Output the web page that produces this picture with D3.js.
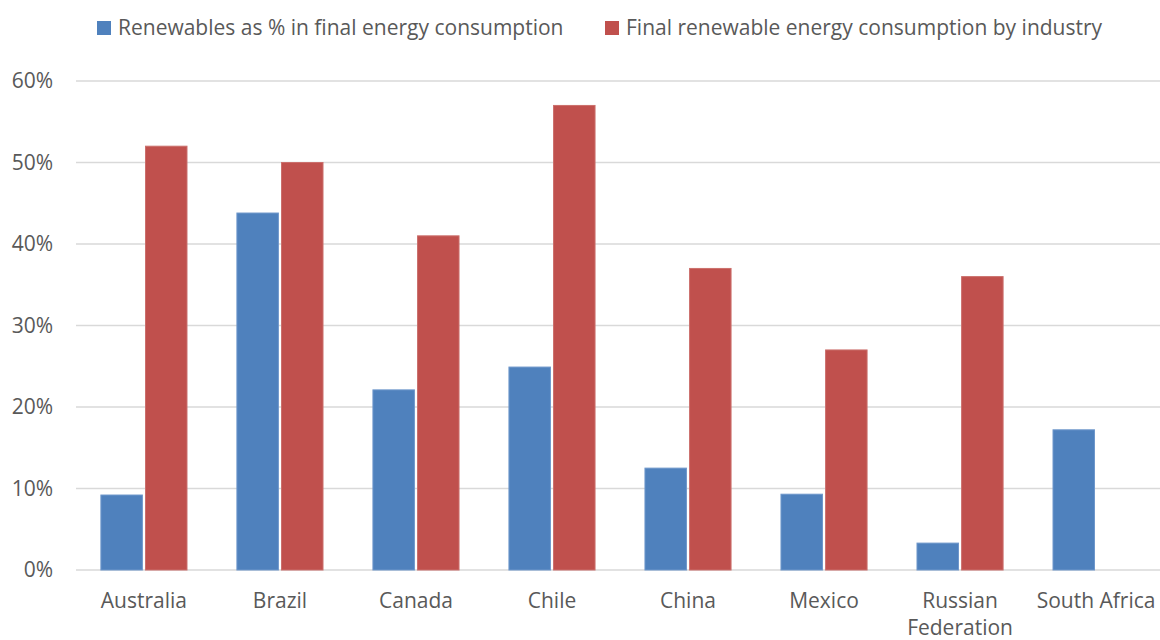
<!DOCTYPE html>
<html>
<head>
<meta charset="utf-8">
<script src="https://cdn.jsdelivr.net/npm/d3@7"></script>
<style>
  body { margin: 0; background: #fff; }
  svg text { font-family: "Open Sans", sans-serif; fill: #595959; }
</style>
</head>
<body>
<div id="chart"></div>
<script>
const countries = ['Australia', 'Brazil', 'Canada', 'Chile', 'China', 'Mexico', 'Russian Federation', 'South Africa'];
const seriesNames = ['Renewables as % in final energy consumption', 'Final renewable energy consumption by industry'];
const renewableShare = [9.2, 43.8, 22.1, 24.9, 12.5, 9.3, 3.3, 17.2];
const industryShare = [52, 50, 41, 57, 37, 27, 36, null];
const yTicks = [0, 10, 20, 30, 40, 50, 60];
const colors = ['#4F81BD', '#C0504D'];
const strokes = ['#6E97CB', '#CB6F6C'];

const width = 1160, height = 640;
const margin = { top: 81, right: 0, bottom: 70, left: 76 };

const svg = d3.select('#chart').append('svg')
    .attr('width', width)
    .attr('height', height);

const x = d3.scaleBand()
    .domain(countries)
    .range([margin.left, margin.left + countries.length * 136])
    .paddingInner(0.367)
    .paddingOuter(0.183);

const x1 = d3.scaleBand()
    .domain([0, 1])
    .range([0, x.bandwidth()])
    .paddingInner(0.07);

const y = d3.scaleLinear()
    .domain([0, 60])
    .range([height - margin.bottom, margin.top]);

// gridlines
svg.append('g')
    .selectAll('line')
    .data(yTicks)
    .join('line')
    .attr('x1', margin.left)
    .attr('x2', width)
    .attr('y1', d => y(d))
    .attr('y2', d => y(d))
    .attr('stroke', '#d9d9d9')
    .attr('stroke-width', 1.5);

// y labels
svg.append('g')
    .selectAll('text')
    .data(yTicks)
    .join('text')
    .attr('x', 53)
    .attr('y', d => y(d))
    .attr('dy', '0.35em')
    .attr('text-anchor', 'end')
    .style('font-size', '21px')
    .text(d => d + '%');

// bars
const series = [renewableShare, industryShare];
series.forEach((vals, si) => {
    svg.append('g')
        .selectAll('rect')
        .data(countries.map((c, i) => ({ c, v: vals[i] })).filter(d => d.v != null))
        .join('rect')
        .attr('x', d => x(d.c) + x1(si))
        .attr('width', x1.bandwidth())
        .attr('y', d => y(d.v))
        .attr('height', d => y(0) - y(d.v))
        .attr('fill', colors[si])
        .attr('stroke', strokes[si])
        .attr('stroke-width', 1);
});

// x labels
const xl = svg.append('g')
    .selectAll('text')
    .data(countries)
    .join('text')
    .attr('x', d => x(d) + x.bandwidth() / 2)
    .attr('y', 608)
    .attr('text-anchor', 'middle')
    .style('font-size', '21px');
xl.each(function (d) {
    const words = d === 'Russian Federation' ? ['Russian', 'Federation'] : [d];
    const t = d3.select(this);
    words.forEach((w, i) => {
        t.append('tspan')
            .attr('x', x(d) + x.bandwidth() / 2)
            .attr('dy', i === 0 ? 0 : 27)
            .text(w);
    });
});

// legend
const legendPos = [97, 605];
const legend = svg.append('g');
seriesNames.forEach((name, i) => {
    legend.append('rect')
        .attr('x', legendPos[i])
        .attr('y', 21)
        .attr('width', 14)
        .attr('height', 14)
        .attr('fill', colors[i]);
    legend.append('text')
        .attr('x', legendPos[i] + 21)
        .attr('y', 28)
        .attr('dy', '0.35em')
        .style('font-size', '21px')
        .text(name);
});
</script>
</body>
</html>
